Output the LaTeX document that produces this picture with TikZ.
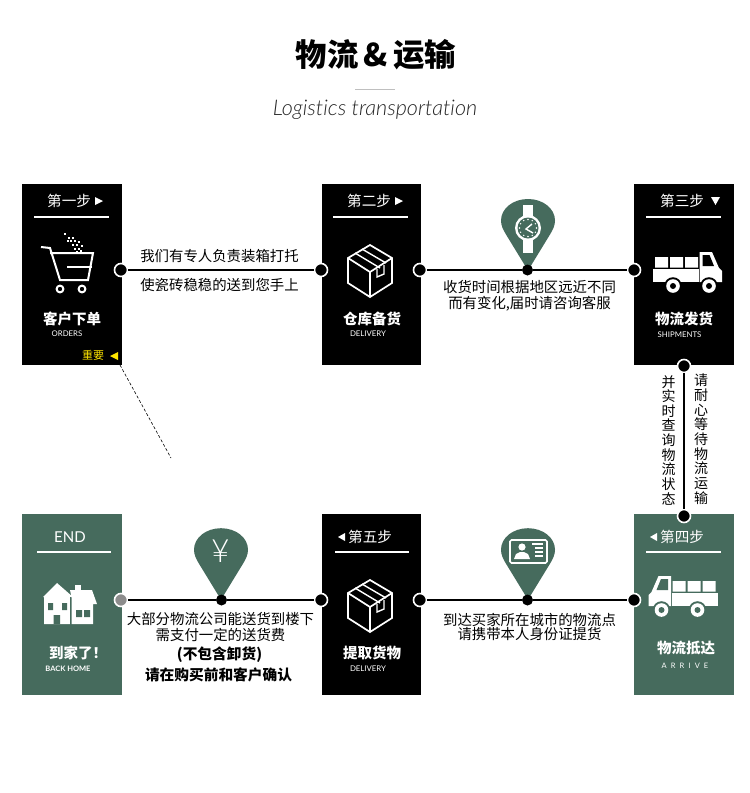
\documentclass[tikz,border=0pt]{standalone}
\usepackage{fontspec}
\setmainfont{Noto Sans CJK SC}
\newfontfamily\latin{Lato}
\newfontfamily\latinlight{Lato Light}[ItalicFont={Lato Light Italic},Ligatures=NoCommon]
\definecolor{pine}{HTML}{466B5D}
\definecolor{gold}{HTML}{FFE600}
\tikzset{
  x=1pt,y=-1pt,
  panel/.style={draw=none,fill=#1,minimum width=99.5pt,minimum height=181pt,inner sep=0pt,outer sep=0pt},
  stopdot/.style={circle,fill=black,draw=white,line width=1.6pt,minimum size=13pt,inner sep=0pt},
  stopgrey/.style={stopdot,fill=black!45!white},
  middot/.style={circle,fill=black,minimum size=11pt,inner sep=0pt},
  linkline/.style={line width=2pt,black},
  bodytext/.style={font=\fontsize{14.4}{14.6}\selectfont,text=black,inner sep=0pt,align=center},
  strongtext/.style={font=\fontsize{14.7}{14.7}\selectfont\bfseries,text=black,inner sep=0pt},
  headtext/.style={font=\fontsize{14.6}{14.6}\selectfont,text=white,inner sep=0pt},
  nametext/.style={font=\fontsize{14.5}{14.5}\selectfont\bfseries,text=white,inner sep=0pt},
  subtext/.style={font=\latin\fontsize{7.8}{8}\selectfont,text=white,inner sep=0pt},
  headrule/.style={white,line width=1.5pt},
  inkline/.style={white,line width=1.7pt,line join=miter},
  trimark/.style={fill=white,draw=none},
  vertext/.style={font=\fontsize{14}{14.65}\selectfont,inner sep=0pt,align=center,anchor=north}
}
\newcommand{\parcel}[2]{%
  \begin{scope}[shift={(#1,#2)}]
    \draw[inkline] (0,-26)--(22,-13)--(22,12)--(0,26)--(-22,12)--(-22,-13)--cycle;
    \draw[inkline] (-22,-13)--(0,1)--(22,-13) (0,1)--(0,26);
    \draw[inkline,line width=1.4pt] (-15,-18)--(10,-3) (-8,-22)--(16,-8);
    \draw[inkline,line width=1.4pt] (7,-2)--(7,6)--(14,3)--(14,-6);
  \end{scope}}
% x, y, direction, background
\newcommand{\truck}[4]{%
  \begin{scope}[shift={(#1,#2)},xscale=#3]
    \fill[white] (0,11.5)rectangle(46,25);
    \fill[white] (2,0)rectangle(15,10.5) (17,0)rectangle(30,10.5) (32,0)rectangle(45,10.5);
    \fill[white] (46.5,-5)--(59,-5)--(66,11)--(69,14)--(69,25)--(46.5,25)--cycle;
    \fill[#4] (49.5,-2)--(56.5,-2)--(61,9)--(49.5,9)--cycle;
    \foreach \wx in {20,56}{
      \fill[#4] (\wx,29) circle (8.8);
      \fill[white] (\wx,29) circle (6.8);
      \fill[#4] (\wx,29) circle (3);}
  \end{scope}}
\newcommand{\pin}[2]{%
  \begin{scope}[shift={(#1,#2)}]
    \fill[pine] (0,50)--(-22,14) .. controls (-25,9) and (-27,5) .. (-27,0)
      .. controls (-27,-12) and (-15,-21.5) .. (0,-21.5)
      .. controls (15,-21.5) and (27,-12) .. (27,0)
      .. controls (27,5) and (25,9) .. (22,14) -- cycle;
  \end{scope}}
\begin{document}
\begin{tikzpicture}
\useasboundingbox (0,0) rectangle (750,793);
\fill[white] (0,0) rectangle (750,793);
% title
\node[font=\fontsize{31.4}{31.4}\selectfont\bfseries,inner sep=0pt] (title) at (376,54.5) {物流\,\&\,运输};
\coordinate (ruleL) at (355,89); \coordinate (ruleR) at (395,89);
\draw[black!25,line width=.8pt] (ruleL)--(ruleR);
\node[font=\latinlight\itshape\fontsize{21.6}{22}\selectfont,text=black!85,inner sep=0pt] (subtitle) at (375,110) {Logistics transportation};
% panels
\node[panel=black] (p1) at (71.75,274.5) {};
\node[panel=black] (p2) at (371.25,274.5) {};
\node[panel=black] (p3) at (683.75,274.5) {};
\node[panel=pine] (p4) at (683.75,604.5) {};
\node[panel=black] (p5) at (371.25,604.5) {};
\node[panel=pine] (p6) at (71.75,604.5) {};
% pins
\pin{528}{220.5}
\pin{528}{549.7}
\pin{221}{549.7}
% stops
\node[stopdot] (a1) at (121,270) {};
\node[stopdot] (a2) at (321,270) {};
\node[stopdot] (a3) at (420,270) {};
\node[middot] (a4) at (527.5,270) {};
\node[stopdot] (a5) at (634,270) {};
\node[stopdot] (v1) at (684,366) {};
\node[stopdot] (v2) at (684,516) {};
\node[stopdot] (b1) at (634,600) {};
\node[middot] (b2) at (527.5,600) {};
\node[stopdot] (b3) at (420,600) {};
\node[stopdot] (b4) at (321,600) {};
\node[middot] (b5) at (221.5,600) {};
\node[stopgrey] (b6) at (121,600) {};
\draw[linkline] (a1)--(a2);
\draw[linkline] (a3)--(a4)--(a5);
\draw[linkline] (v1)--(v2);
\draw[linkline] (b1)--(b2)--(b3);
\draw[linkline] (b4)--(b5)--(b6);
% headers
\node[headtext,anchor=west] (h1) at (47,201) {第一步};
\fill[trimark] (95,197)--(103,201)--(95,205)--cycle;
\draw[headrule] (34,217)--(109,217);
\node[headtext,anchor=west] (h2) at (347,201) {第二步};
\fill[trimark] (395,197)--(403,201)--(395,205)--cycle;
\draw[headrule] (333,217)--(408,217);
\node[headtext,anchor=west] (h3) at (660,201) {第三步};
\fill[trimark] (711,197)--(720,197)--(715.5,205)--cycle;
\draw[headrule] (646,217)--(721,217);
\node[headtext,anchor=west] (h4) at (660,537) {第四步};
\fill[trimark] (657,533)--(657,541)--(650,537)--cycle;
\draw[headrule] (646,552)--(721,552);
\node[headtext,anchor=west] (h5) at (348,537) {第五步};
\fill[trimark] (345,533)--(345,541)--(338,537)--cycle;
\draw[headrule] (335,552)--(409,552);
\node[font=\latin\fontsize{15}{15}\selectfont,text=white,inner sep=0pt] (h6) at (70,537) {END};
\draw[headrule] (37,552)--(111,552);
% names
\node[nametext] (n1) at (72,319) {客户下单};
\node[subtext] (s1) at (67,334) {ORDERS};
\node[nametext] (n2) at (372,319) {仓库备货};
\node[subtext] (s2) at (368,334) {DELIVERY};
\node[nametext] (n3) at (684,319) {物流发货};
\node[subtext] (s3) at (679.5,335) {SHIPMENTS};
\node[nametext] (n4) at (686,648) {物流抵达};
\node[subtext,font=\latin\fontsize{7.5}{8}\selectfont\addfontfeature{LetterSpace=55}] (s4) at (685,666) {ARRIVE};
\node[nametext] (n5) at (372,653) {提取货物};
\node[subtext] (s5) at (368,669) {DELIVERY};
\node[nametext] (n6) at (78,652.5) {到家了！};
\node[subtext,font=\latin\fontsize{7.5}{8}\selectfont\bfseries] (s6) at (68,669) {BACK HOME};
\node[font=\fontsize{11}{11}\selectfont,text=gold,inner sep=0pt] (imp) at (93,355.5) {重要};
\fill[gold] (118,352)--(118,360)--(110,356)--cycle;
% dashed
\coordinate (d1) at (120,365); \coordinate (d2) at (171,458);
\draw[black,line width=.6pt,densely dashed] (d1)--(d2);
% body text
\node[bodytext] (t1) at (219.5,256) {我们有专人负责装箱打托};
\node[bodytext] (t2) at (219.5,285.5) {使瓷砖稳稳的送到您手上};
\node[bodytext] (t3) at (529.5,287) {收货时间根据地区远近不同};
\node[bodytext] (t4) at (529.5,303.5) {而有变化,届时请咨询客服};
\node[bodytext] (t5) at (220.5,619.5) {大部分物流公司能送货到楼下};
\node[bodytext] (t6) at (220.5,635) {需支付一定的送货费};
\node[strongtext] (t7) at (219.5,654.5) {(不包含卸货)};
\node[strongtext] (t8) at (218.5,674.5) {请在购买前和客户确认};
\node[bodytext] (t9) at (529.5,619.5) {到达买家所在城市的物流点};
\node[bodytext] (t10) at (529.5,634) {请携带本人身份证提货};
\node[vertext] (vl) at (668.5,375) {并\\实\\时\\查\\询\\物\\流\\状\\态};
\node[vertext] (vr) at (701,374) {请\\耐\\心\\等\\待\\物\\流\\运\\输};
% cart
\draw[inkline,line width=2pt] (41,247)--(50,248)--(60,280)--(88,280)--(93,253)--(50,253);
\draw[inkline,line width=2pt] (92,267)--(67,267);
\draw[white,line width=2pt] (60,289) circle (3.4) (82,289) circle (3.4);
\foreach \px/\py in {65/234,69/238,73/238,71/241,75/241,73/245,77/245,79/242,75/249,79/249,82/246,77/252,68/241,81/251}
  \fill[white] (\px-1.2,\py-1.2) rectangle (\px+1.2,\py+1.2);
% parcels
\parcel{370}{271}
\parcel{370}{606}
% trucks
\truck{653}{257}{1}{black}
\truck{717.5}{581}{-1}{pine}
% house
\fill[white] (57,583)--(73,597)--(70,597)--(70,624)--(44,624)--(44,597)--(43,597)--cycle;
\fill[white] (75,585)rectangle(81,591);
\fill[white] (70,590)--(92,590)--(97,604)--(93,604)--(93,624)--(71.5,624)--(71.5,597)--cycle;
\fill[pine] (48,603)rectangle(53,610) (62,603)rectangle(67,610) (53.5,615)rectangle(60,624);
\fill[pine] (76,610)rectangle(82,617) (84,610)rectangle(90,617);
\draw[pine,line width=.8pt] (70.7,597)--(70.7,624);
% watch
\fill[white] (523,205)rectangle(533,253);
\fill[white] (528,228) circle (13);
\fill[pine] (528,228) circle (10.5);
\foreach \a in {0,30,...,330} \fill[white] (528,228)++(\a:8.5) circle (.8);
\draw[white,line width=1.4pt] (532,224)--(526,229)--(533,233);
% yen
\node[font=\latinlight\fontsize{32}{32}\selectfont,text=white,inner sep=0pt] (yen) at (220.5,551.5) {¥};
% id card
\draw[white,line width=1.6pt,rounded corners=1.5pt] (510,540)rectangle(547,563);
\fill[white] (522,547) circle (3.6);
\fill[white] (514,559)--(516,554)--(520,552)--(524,552)--(528,554)--(530,559)--cycle;
\draw[white,line width=1.2pt] (532,544)--(543,544) (535,548)--(543,548) (535,552)--(543,552) (535,556)--(543,556);
\end{tikzpicture}
\end{document}
